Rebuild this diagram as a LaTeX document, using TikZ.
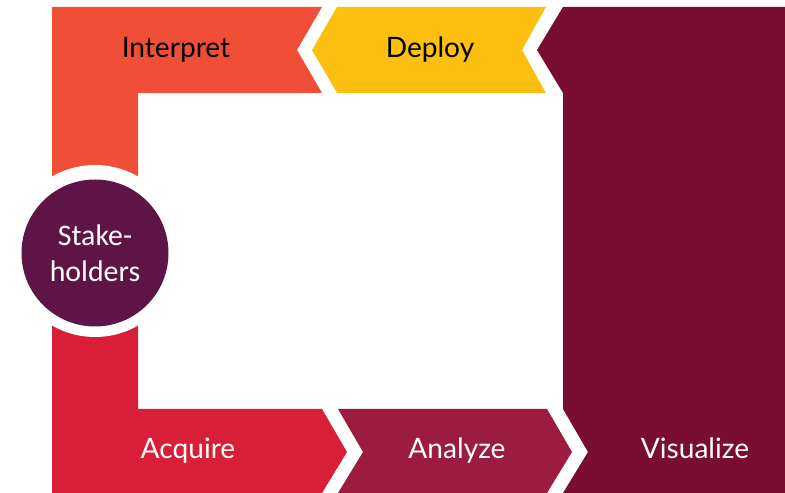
\documentclass[tikz,border=0pt]{standalone}
\usepackage{fontspec}
\setmainfont{Lato}
\newfontfamily\calfont{Carlito}
\usetikzlibrary{positioning}
\definecolor{interpretC}{HTML}{F04E37}
\definecolor{deployC}{HTML}{FDC010}
\definecolor{visualC}{HTML}{7A0E32}
\definecolor{analyzeC}{HTML}{9C1B40}
\definecolor{acquireC}{HTML}{D91E3A}
\definecolor{stakeC}{HTML}{5E1447}
\tikzstyle{every path}=[line join=round]
\tikzstyle{stagetext}=[font=\fontsize{16}{18}\selectfont,inner sep=0pt,anchor=base]

\begin{document}
\begin{tikzpicture}[x=0.02cm,y=-0.02cm]
\useasboundingbox (0,0) rectangle (785,493);
\fill[visualC] (563,7)--(785,7)--(785,493)--(563,493)--(588,452)--(563,409)--(563,93)--(537,50)--cycle;
\fill[deployC] (337,7)--(546,7)--(522,50)--(546,93)--(337,93)--(312,50)--cycle;
\fill[interpretC] (52,7)--(322,7)--(297,50)--(322,93)--(138,93)--(138,251)--(52,251)--cycle;
\fill[acquireC] (52,251)--(138,251)--(138,409)--(322,409)--(347,452)--(322,493)--(52,493)--cycle;
\fill[analyzeC] (338,409)--(547,409)--(572,452)--(547,493)--(338,493)--(363,452)--cycle;
\fill[white] (95,251) circle (86);
\node[circle,fill=stakeC,minimum size=147*0.02cm,inner sep=0pt,text=white,align=center,
  font=\calfont\fontsize{17}{20.4}\selectfont] (stake) at (95,253) {Stake-\\holders};
\node[stagetext] (interp) at (176,58) {Interpret};
\node[stagetext] (deploy) at (430,58) {Deploy};
\node[stagetext,text=white] (acq) at (188,459) {Acquire};
\node[stagetext,text=white] (ana) at (457,459) {Analyze};
\node[stagetext,text=white] (vis) at (695,459) {Visualize};
\end{tikzpicture}
\end{document}
